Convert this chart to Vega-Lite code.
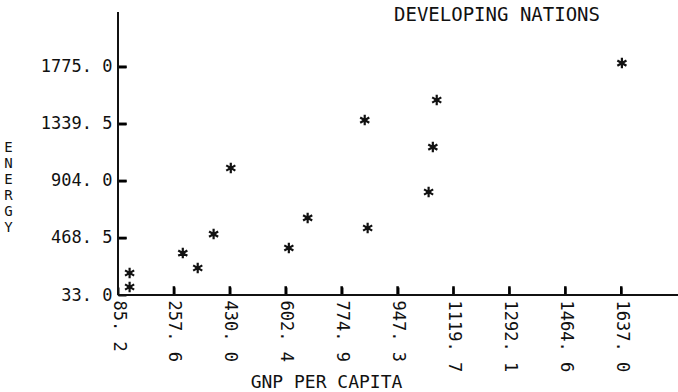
{
  "$schema": "https://vega.github.io/schema/vega-lite/v6.json",
  "width": 560,
  "height": 283,
  "autosize": "none",
  "padding": {"left": 118, "top": 12, "right": 0, "bottom": 97},
  "background": "white",
  "title": {
    "text": "DEVELOPING NATIONS",
    "anchor": "middle",
    "dx": 99,
    "offset": -14,
    "font": "DejaVu Sans Mono",
    "fontSize": 19,
    "fontWeight": "normal",
    "color": "#111"
  },
  "config": {
    "view": {"stroke": null},
    "axis": {
      "grid": false,
      "domain": false,
      "tickColor": "#111",
      "tickWidth": 2,
      "tickSize": 8,
      "labelFont": "DejaVu Sans Mono",
      "labelFontSize": 17,
      "labelColor": "#111",
      "titleFont": "DejaVu Sans Mono",
      "titleFontSize": 18,
      "titleFontWeight": "normal",
      "titleColor": "#111"
    }
  },
  "data": {
    "values": [
      {"gnp": 121, "energy": 201},
      {"gnp": 121, "energy": 94},
      {"gnp": 285, "energy": 353},
      {"gnp": 331, "energy": 239},
      {"gnp": 380, "energy": 498},
      {"gnp": 433, "energy": 1002},
      {"gnp": 612, "energy": 392},
      {"gnp": 670, "energy": 621},
      {"gnp": 846, "energy": 1368},
      {"gnp": 855, "energy": 544},
      {"gnp": 1043, "energy": 819},
      {"gnp": 1056, "energy": 1162},
      {"gnp": 1068, "energy": 1521},
      {"gnp": 1639, "energy": 1803}
    ]
  },
  "layer": [
    {
      "mark": {
        "type": "point",
        "shape": "M0,-1L0,1M-0.87,-0.5L0.87,0.5M-0.87,0.5L0.87,-0.5M-0.5,0L0.5,0",
        "filled": false,
        "stroke": "#111",
        "strokeWidth": 2.2,
        "size": 110,
        "opacity": 1
      },
      "encoding": {
        "x": {
          "field": "gnp",
          "type": "quantitative",
          "scale": {"domain": [85.2, 1812], "nice": false, "zero": false},
          "axis": {
            "orient": "bottom",
            "offset": -8,
            "values": [85.2, 257.6, 430.0, 602.4, 774.9, 947.3, 1119.7, 1292.1, 1464.6, 1637.0],
            "labelExpr": "replace(format(datum.value, '.1f'), '.', '. ')",
            "labelAngle": 90,
            "labelAlign": "left",
            "labelBaseline": "middle",
            "labelPadding": 5,
            "title": "GNP PER CAPITA",
            "titleX": 208,
            "titleY": 95,
            "titleAlign": "center",
            "titleBaseline": "middle"
          }
        },
        "y": {
          "field": "energy",
          "type": "quantitative",
          "scale": {"domain": [33, 2192.6], "nice": false, "zero": false},
          "axis": {
            "orient": "left",
            "offset": -8,
            "values": [33.0, 468.5, 904.0, 1339.5, 1775.0],
            "labelExpr": "replace(format(datum.value, '.1f'), '.', '. ')",
            "labelPadding": 6,
            "title": ["E", "N", "E", "R", "G", "Y"],
            "titleAngle": 0,
            "titleX": -118,
            "titleY": 135,
            "titleAlign": "center",
            "titleBaseline": "middle",
            "titleFontSize": 14,
            "titleLineHeight": 16
          }
        }
      }
    },
    {
      "data": {"values": [{"v": 257.6}, {"v": 430.0}, {"v": 602.4}, {"v": 774.9}, {"v": 947.3}, {"v": 1119.7}, {"v": 1292.1}, {"v": 1464.6}, {"v": 1637.0}]},
      "mark": {"type": "rule", "color": "#000", "strokeWidth": 2.5},
      "encoding": {
        "x": {"field": "v", "type": "quantitative"},
        "y": {"datum": 33, "type": "quantitative"},
        "y2": {"datum": 100}
      }
    },
    {
      "data": {"values": [{"v": 468.5}, {"v": 904.0}, {"v": 1339.5}, {"v": 1775.0}]},
      "mark": {"type": "rule", "color": "#000", "strokeWidth": 2.5},
      "encoding": {
        "y": {"field": "v", "type": "quantitative"},
        "x": {"datum": 85.2, "type": "quantitative"},
        "x2": {"datum": 112}
      }
    },
    {
      "mark": {"type": "rule", "color": "#111", "strokeWidth": 2},
      "encoding": {"x": {"datum": 85.2, "type": "quantitative"}}
    },
    {
      "mark": {"type": "rule", "color": "#111", "strokeWidth": 2},
      "encoding": {"y": {"datum": 33, "type": "quantitative"}}
    }
  ]
}
